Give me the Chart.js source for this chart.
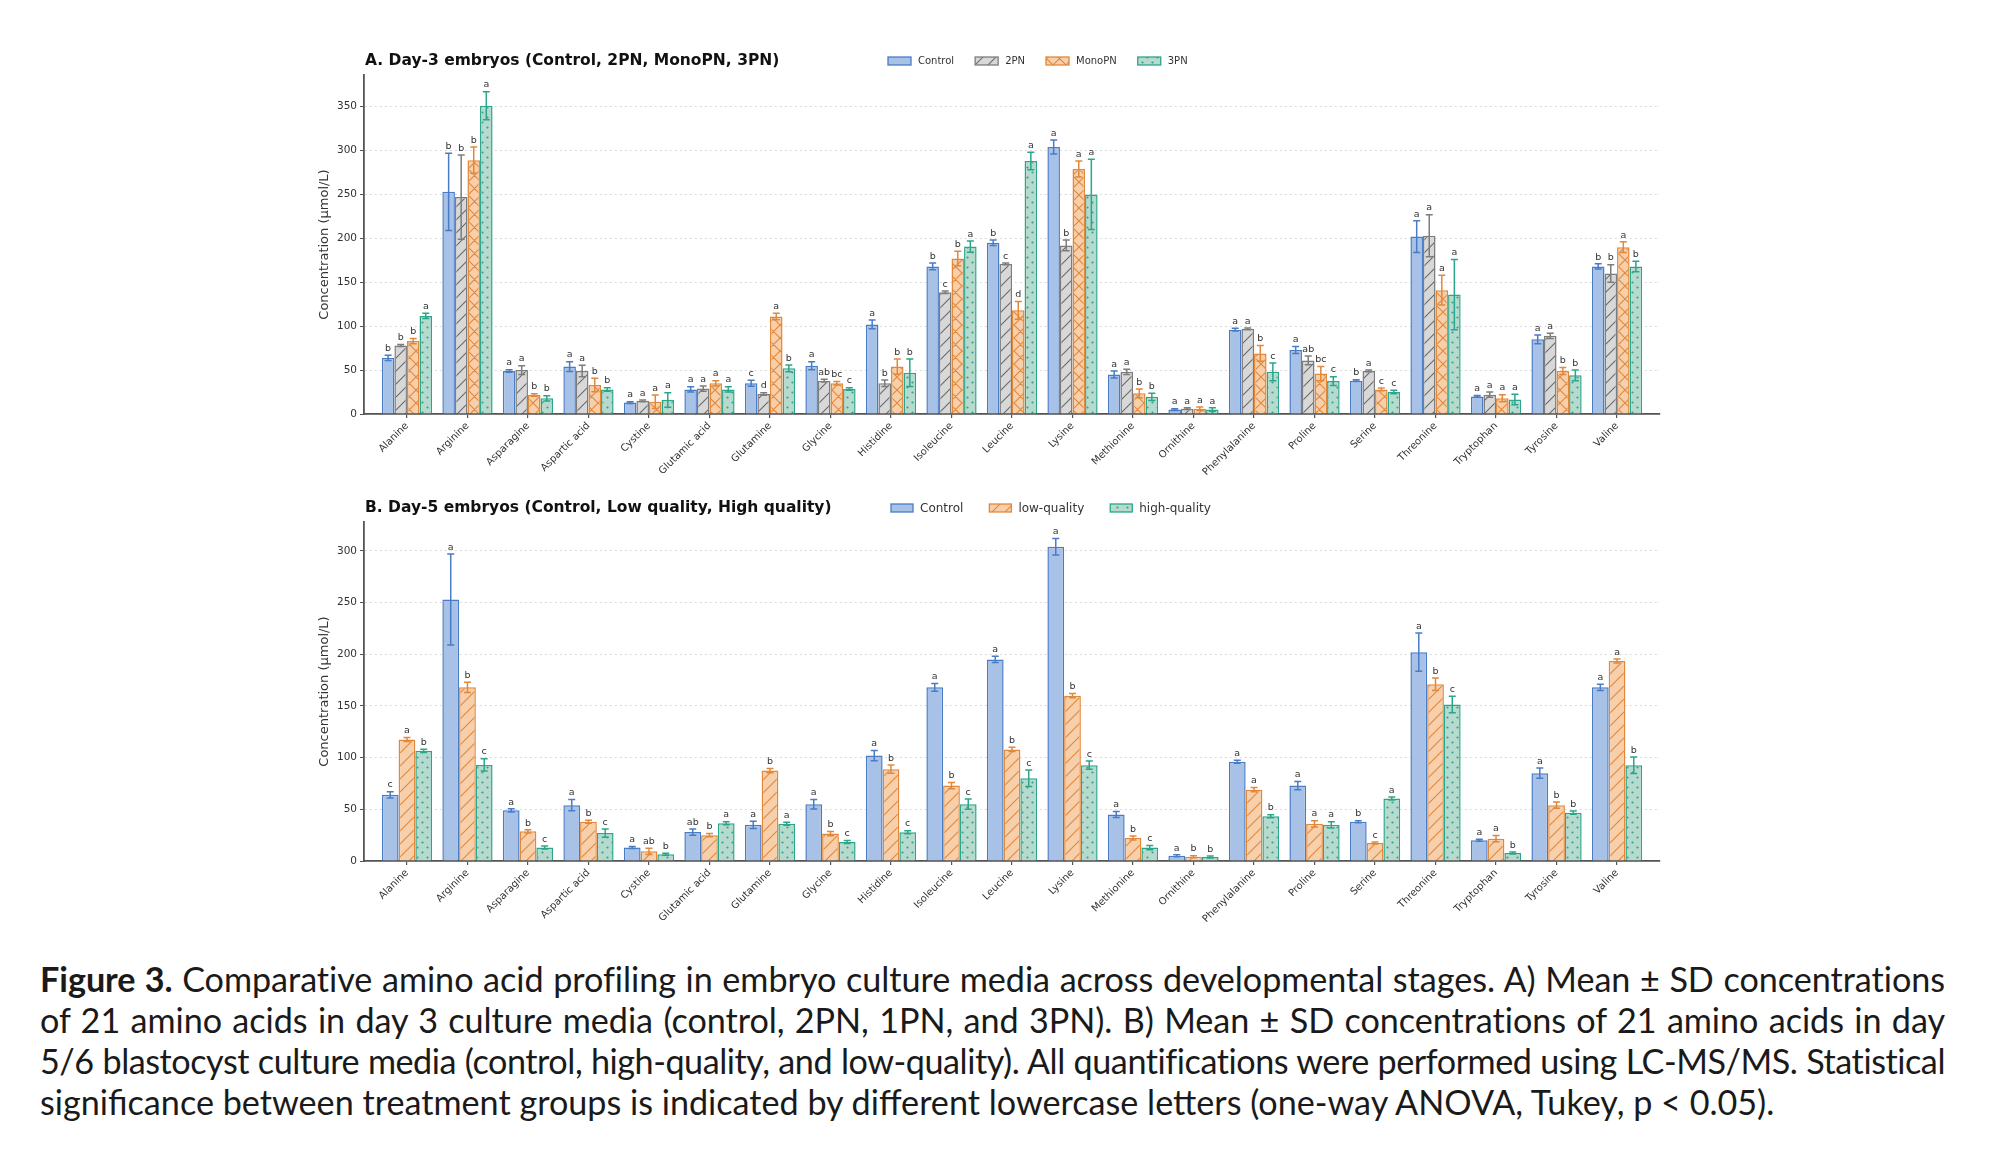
<!doctype html>
<html lang="en">
<head>
<meta charset="UTF-8" />
<title>Figure 3 - amino acid profiling</title>
<script src="https://cdn.jsdelivr.net/npm/chart.js"></script>
<style>
  body { margin: 0; background: #fff; width: 2000px; height: 1163px; position: relative; overflow: hidden; }
  .panel { position: absolute; left: 0; }
  #caption { position: absolute; left: 40px; top: 958px; width: 1905px; font-family: Lato, sans-serif; color: #1a1a1a; line-height: 41px; font-size: 31px; }
  #caption div { white-space: nowrap; text-align: justify; text-align-last: justify; }
  #caption div.last { text-align: left; text-align-last: left; }
  #caption span { display: inline; }
</style>
</head>
<body>
<div class="panel" style="top:0"><canvas id="chartA" width="2000" height="490"></canvas></div>
<div class="panel" style="top:490px"><canvas id="chartB" width="2000" height="460"></canvas></div>
<div id="caption">
  <div><span><b>Figure 3.</b> Comparative amino acid profiling in embryo culture media across developmental stages. A) Mean ± SD concentrations</span></div>
  <div><span>of 21 amino acids in day 3 culture media (control, 2PN, 1PN, and 3PN). B) Mean ± SD concentrations of 21 amino acids in day</span></div>
  <div><span>5/6 blastocyst culture media (control, high-quality, and low-quality). All quantifications were performed using LC-MS/MS. Statistical</span></div>
  <div class="last"><span>significance between treatment groups is indicated by different lowercase letters (one-way ANOVA, Tukey, p &lt; 0.05).</span></div>
</div>
<script>
const aminoAcids = ["Alanine", "Arginine", "Asparagine", "Aspartic acid", "Cystine", "Glutamic acid", "Glutamine",
    "Glycine", "Histidine", "Isoleucine", "Leucine", "Lysine", "Methionine", "Ornithine", "Phenylalanine",
    "Proline", "Serine", "Threonine", "Tryptophan", "Tyrosine", "Valine"];
const yTicksA = [0, 50, 100, 150, 200, 250, 300, 350];
const yTicksB = [0, 50, 100, 150, 200, 250, 300];

// Day-3 (A)
const d3Control = [64, 253, 49, 54, 13, 28, 35, 55, 102, 168, 195, 304, 45, 5, 96, 73, 38, 202, 20, 85, 168];
const d3ControlSd = [3, 44, 1.5, 5.5, 1, 3, 3.5, 4.6, 5, 3.8, 3, 8, 4, 1, 1.5, 4, 1, 18, 1, 5, 3];
const d3ControlSig = ["b", "b", "a", "a", "a", "a", "c", "a", "a", "b", "b", "a", "a", "a", "a", "a", "b", "a", "a", "a", "b"];
const d3TwoPN = [78, 247, 50, 49, 15, 29, 22.8, 38, 35, 138.6, 171, 192, 48, 6, 97, 61, 49, 203, 22, 89, 160];
const d3TwoPNSd = [1, 48, 5, 6.5, 1, 3, 1.5, 1.5, 3.7, 1.5, 1, 6, 3, 1, 1, 5, 1, 24, 3, 3, 10];
const d3TwoPNSig = ["b", "b", "a", "a", "a", "a", "d", "ab", "b", "c", "c", "b", "a", "a", "a", "ab", "a", "a", "a", "a", "b"];
const d3MonoPN = [83, 289, 21.6, 33, 14, 35, 111, 35, 54, 177, 118, 279, 23.5, 6, 69, 46, 28, 141, 18, 49, 190];
const d3MonoPNSd = [3, 15, 1.5, 7.6, 7.6, 3, 3.8, 2, 8.6, 8.3, 10, 9, 5, 2, 9, 8, 1.5, 17, 4, 4, 6];
const d3MonoPNSig = ["b", "b", "b", "b", "a", "a", "a", "bc", "b", "b", "d", "a", "b", "a", "b", "bc", "c", "a", "a", "b", "a"];
const d3ThreePN = [111.6, 351, 17.8, 28, 16, 28, 52, 28.5, 47, 190.6, 288, 250, 19.5, 5, 48, 37.5, 25, 136, 16.5, 44, 168];
const d3ThreePNSd = [3, 16, 3, 2, 8.3, 3, 3.8, 1.5, 15.6, 6.4, 10, 40, 4, 2, 10, 5, 2, 40, 6, 6, 6];
const d3ThreePNSig = ["a", "a", "b", "b", "a", "a", "b", "c", "b", "a", "a", "a", "b", "a", "c", "c", "c", "a", "a", "b", "b"];

// Day-5 (B)
const d5Control = [64, 253, 49, 54, 13, 28, 35, 55, 102, 168, 195, 304, 45, 5, 96, 73, 38, 202, 20, 85, 168];
const d5ControlSd = [3, 44, 1.5, 5.5, 1, 3, 3.5, 4.6, 5, 3.8, 3, 8, 3, 1, 1.5, 4, 1, 18.5, 1, 5, 3];
const d5ControlSig = ["c", "a", "a", "a", "a", "ab", "a", "a", "a", "a", "a", "a", "a", "a", "a", "a", "b", "a", "a", "a", "a"];
const d5LowQuality = [117.6, 168, 28.7, 38, 9.4, 25, 87.5, 26.5, 88.8, 73, 108, 160, 22.3, 4.2, 69, 36, 17.4, 171, 21.6, 54, 193.5];
const d5LowQualitySd = [2, 5, 1.5, 1.5, 3, 1.5, 2, 2, 4, 3, 2, 2, 2, 1, 2, 3, 1, 6, 3, 3, 2];
const d5LowQualitySig = ["a", "b", "b", "b", "ab", "b", "b", "b", "b", "b", "b", "b", "b", "b", "a", "a", "c", "b", "a", "b", "a"];
const d5HighQuality = [106.6, 93, 13, 27, 6.5, 36.5, 36, 18.4, 27.8, 55, 80, 92.7, 13, 3.9, 43.3, 35, 60.4, 151.5, 7.7, 46.8, 92.7];
const d5HighQualitySd = [1.5, 6, 1.5, 4, 1, 1.5, 1.5, 1.5, 1.5, 5, 8, 4, 2, 1, 1.5, 3, 1.5, 8, 1, 1.5, 8];
const d5HighQualitySig = ["b", "c", "c", "c", "b", "a", "a", "c", "c", "c", "c", "c", "c", "b", "b", "a", "a", "c", "b", "b", "b"];

Chart.defaults.font.family = "'DejaVu Sans', sans-serif";
Chart.defaults.color = "#333";

function makePattern(canvas, bg, fg, kind) {
    const s = kind === "dots" ? 10 : 13;
    const c = document.createElement("canvas");
    c.width = s; c.height = s;
    const g = c.getContext("2d");
    g.fillStyle = bg;
    g.fillRect(0, 0, s, s);
    g.strokeStyle = fg;
    g.fillStyle = fg;
    g.lineWidth = 1.1;
    if (kind === "diag" || kind === "cross") {
        g.beginPath();
        g.moveTo(-1, s + 1); g.lineTo(s + 1, -1);
        g.moveTo(-1, 1); g.lineTo(1, -1);
        g.moveTo(s - 1, s + 1); g.lineTo(s + 1, s - 1);
        if (kind === "cross") {
            g.moveTo(-1, -1); g.lineTo(s + 1, s + 1);
            g.moveTo(s - 1, -1); g.lineTo(s + 1, 1);
            g.moveTo(-1, s - 1); g.lineTo(1, s + 1);
        }
        g.stroke();
    } else {
        [[2.5, 2.5], [7.5, 7.5]].forEach(([px, py]) => {
            g.beginPath();
            g.arc(px, py, 1.1, 0, Math.PI * 2);
            g.fill();
        });
    }
    return canvas.getContext("2d").createPattern(c, "repeat");
}

const blue = { bg: "#a7c2e6", line: "#4a7cc6" };
const grey = { bg: "#d8d8d8", line: "#7d7d7d", hatch: "#6a6a6a" };
const orange = { bg: "#f7cfaa", line: "#e2883a" };
const teal = { bg: "#b7dacf", line: "#2ba68b" };

function barSet(label, values, sd, sig, fill, color) {
    return {
        label: label,
        data: values.map((v, i) => ({ x: i, y: v })),
        sd: sd,
        sig: sig,
        backgroundColor: fill,
        borderColor: color,
        borderWidth: 1.5,
        categoryPercentage: 0.83,
        barPercentage: 1.0
    };
}

// error bars + significance letters
const errorLetters = {
    id: "errorLetters",
    afterDatasetsDraw(chart) {
        const ctx = chart.ctx;
        const ys = chart.scales.y;
        ctx.save();
        chart.data.datasets.forEach((ds, i) => {
            const meta = chart.getDatasetMeta(i);
            meta.data.forEach((bar, j) => {
                const v = ds.data[j].y;
                const e = ds.sd[j];
                const yTop = ys.getPixelForValue(v + e);
                const yBot = ys.getPixelForValue(Math.max(v - e, 0));
                ctx.strokeStyle = ds.borderColor;
                ctx.lineWidth = 1.5;
                ctx.beginPath();
                ctx.moveTo(bar.x, yTop); ctx.lineTo(bar.x, yBot);
                ctx.moveTo(bar.x - 3.5, yTop); ctx.lineTo(bar.x + 3.5, yTop);
                ctx.moveTo(bar.x - 3.5, yBot); ctx.lineTo(bar.x + 3.5, yBot);
                ctx.stroke();
                ctx.fillStyle = "#333";
                ctx.font = "9.5px 'DejaVu Sans'";
                ctx.textAlign = "center";
                ctx.textBaseline = "bottom";
                ctx.fillText(ds.sig[j], bar.x, yTop - 2);
            });
        });
        ctx.restore();
    }
};

// panel title and legend on one line
const panelHeader = {
    id: "panelHeader",
    afterDraw(chart, args, opts) {
        const ctx = chart.ctx;
        ctx.save();
        ctx.textBaseline = "middle";
        ctx.textAlign = "left";
        ctx.fillStyle = "#111";
        ctx.font = "bold " + opts.titleSize + "px 'DejaVu Sans'";
        ctx.fillText(opts.title, chart.chartArea.left + 1, opts.y);
        ctx.font = opts.legendSize + "px 'DejaVu Sans'";
        let x = opts.legendX;
        chart.data.datasets.forEach((ds) => {
            ctx.fillStyle = ds.backgroundColor;
            ctx.fillRect(x, opts.y - 4, opts.box, 8);
            ctx.strokeStyle = ds.borderColor;
            ctx.lineWidth = 1.3;
            ctx.strokeRect(x, opts.y - 4, opts.box, 8);
            ctx.fillStyle = "#333";
            ctx.fillText(ds.label, x + opts.box + 7, opts.y + 0.5);
            x += opts.box + 7 + ctx.measureText(ds.label).width + opts.gap;
        });
        ctx.restore();
    }
};

function panelOptions(yMax, yTicks, header, padTop, xHeight) {
    return {
        responsive: false,
        animation: false,
        layout: { padding: { top: padTop, left: 304, right: 340, bottom: 0 } },
        plugins: {
            legend: { display: false },
            tooltip: { enabled: false },
            panelHeader: header
        },
        scales: {
            x: {
                type: "linear",
                bounds: "data",
                offset: false,
                min: -0.71,
                max: 20.71,
                afterFit: (scale) => { scale.height = xHeight; },
                afterBuildTicks: (scale) => { scale.ticks = aminoAcids.map((n, i) => ({ value: i })); },
                ticks: {
                    stepSize: 1,
                    autoSkip: false,
                    includeBounds: false,
                    maxRotation: 45,
                    minRotation: 45,
                    padding: 2,
                    font: { size: 10 },
                    color: "#333",
                    callback: (v) => aminoAcids[v]
                },
                grid: { offset: false, drawOnChartArea: false, tickLength: 4, tickColor: "#555", lineWidth: 1.2 },
                border: { display: true, color: "#555", width: 1.8 }
            },
            y: {
                bounds: "data",
                min: 0,
                max: yMax,
                afterFit: (scale) => { scale.width = 60; },
                afterBuildTicks: (scale) => { scale.ticks = yTicks.map((v) => ({ value: v })); },
                ticks: { font: { size: 10.5 }, color: "#333", padding: 3 },
                grid: { color: "#d9d9d9", lineWidth: 1, tickLength: 4, tickColor: "#555" },
                border: { display: true, color: "#555", width: 1.8, dash: [2, 3] },
                title: {
                    display: true,
                    text: "Concentration (μmol/L)",
                    font: { size: 13 },
                    color: "#333",
                    padding: { top: 13, bottom: 0 }
                }
            }
        }
    };
}

const canvasA = document.getElementById("chartA");
const canvasB = document.getElementById("chartB");

new Chart(canvasA, {
    type: "bar",
    data: {
        datasets: [
            barSet("Control", d3Control, d3ControlSd, d3ControlSig, blue.bg, blue.line),
            barSet("2PN", d3TwoPN, d3TwoPNSd, d3TwoPNSig, makePattern(canvasA, grey.bg, grey.hatch, "diag"), grey.line),
            barSet("MonoPN", d3MonoPN, d3MonoPNSd, d3MonoPNSig, makePattern(canvasA, orange.bg, orange.line, "cross"), orange.line),
            barSet("3PN", d3ThreePN, d3ThreePNSd, d3ThreePNSig, makePattern(canvasA, teal.bg, teal.line, "dots"), teal.line)
        ]
    },
    options: panelOptions(386, yTicksA,
        { title: "A. Day-3 embryos (Control, 2PN, MonoPN, 3PN)", titleSize: 15.5, y: 61,
          legendX: 888, legendSize: 10, box: 23, gap: 21 }, 75, 76),
    plugins: [errorLetters, panelHeader]
});

new Chart(canvasB, {
    type: "bar",
    data: {
        datasets: [
            barSet("Control", d5Control, d5ControlSd, d5ControlSig, blue.bg, blue.line),
            barSet("low-quality", d5LowQuality, d5LowQualitySd, d5LowQualitySig, makePattern(canvasB, orange.bg, orange.line, "diag"), orange.line),
            barSet("high-quality", d5HighQuality, d5HighQualitySd, d5HighQualitySig, makePattern(canvasB, teal.bg, teal.line, "dots"), teal.line)
        ]
    },
    options: panelOptions(328, yTicksB,
        { title: "B. Day-5 embryos (Control, Low quality, High quality)", titleSize: 15.5, y: 18,
          legendX: 891, legendSize: 12, box: 22, gap: 26 }, 32, 89),
    plugins: [errorLetters, panelHeader]
});

// caption size: last line is ~1735 px wide in the reference; tighten any line that would overflow
(function fitCaption() {
    const cap = document.getElementById("caption");
    const spans = Array.from(cap.querySelectorAll("span"));
    const last = spans[spans.length - 1];
    const size = 31 * 1735 / last.getBoundingClientRect().width;
    cap.style.fontSize = size.toFixed(2) + "px";
    spans.forEach((sp) => {
        const w = sp.getBoundingClientRect().width;
        if (w > 1900) {
            sp.parentNode.style.letterSpacing = ((1900 - w) / sp.textContent.length).toFixed(3) + "px";
        }
    });
})();
</script>
</body>
</html>
